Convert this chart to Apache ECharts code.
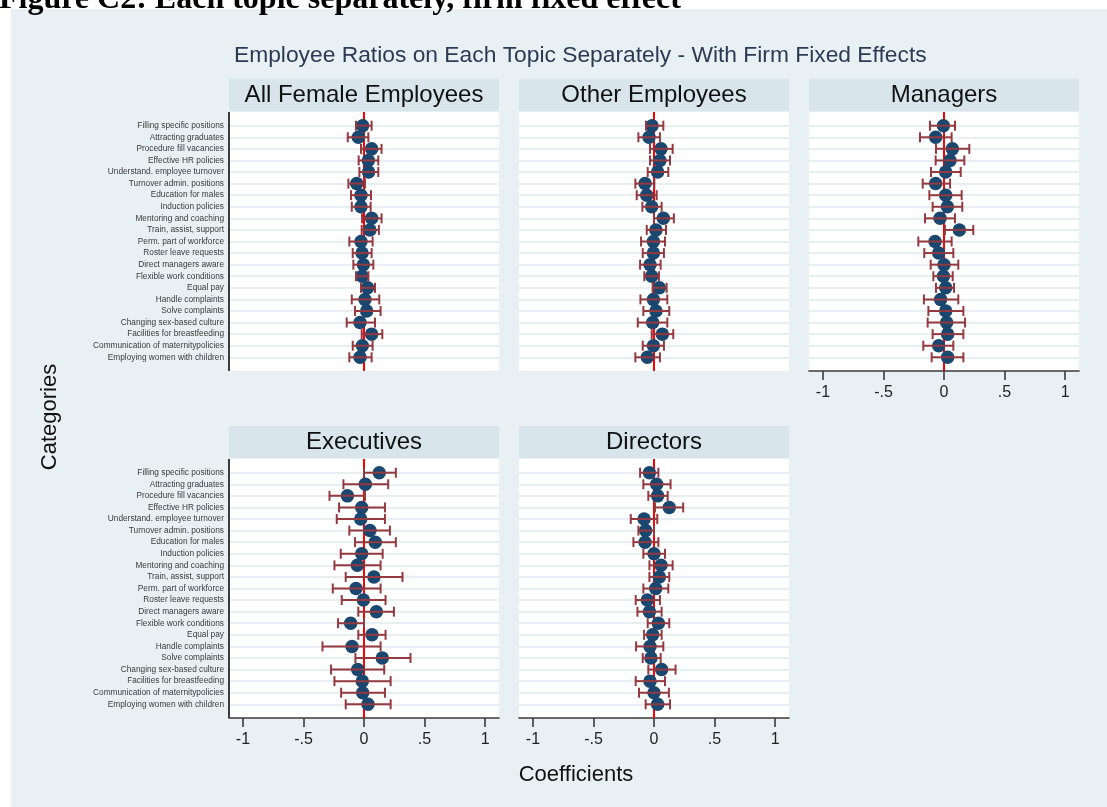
<!DOCTYPE html>
<html><head><meta charset="utf-8">
<script src="https://cdn.jsdelivr.net/npm/echarts@6/dist/echarts.min.js"></script>
<style>html,body{margin:0;padding:0;background:#fff}#c{width:1107px;height:807px}</style>
</head><body><div id="c"></div>
<script>
const categories = [
  'Filling specific positions','Attracting graduates','Procedure fill vacancies','Effective HR policies',
  'Understand. employee turnover','Turnover admin. positions','Education for males','Induction policies',
  'Mentoring and coaching','Train, assist, support','Perm. part of workforce','Roster leave requests',
  'Direct managers aware','Flexible work conditions','Equal pay','Handle complaints','Solve complaints',
  'Changing sex-based culture','Facilities for breastfeeding','Communication of maternitypolicies',
  'Employing women with children'
];
const panelTitles = ['All Female Employees','Other Employees','Managers','Executives','Directors'];
const xTicks = [-1, -0.5, 0, 0.5, 1];

const femaleCoef = [-0.011,-0.047,0.063,0.036,0.038,-0.060,-0.025,-0.025,0.063,0.049,-0.025,-0.016,-0.005,-0.016,0.030,0.008,0.022,-0.033,0.063,-0.014,-0.033];
const femaleLo   = [-0.066,-0.134,-0.025,-0.044,-0.038,-0.129,-0.107,-0.101,-0.016,-0.019,-0.121,-0.093,-0.088,-0.066,-0.025,-0.101,-0.074,-0.143,-0.019,-0.093,-0.121];
const femaleHi   = [0.063,0.036,0.145,0.118,0.118,0.008,0.058,0.055,0.145,0.123,0.071,0.063,0.077,0.036,0.091,0.126,0.137,0.091,0.151,0.071,0.063];

const otherCoef = [-0.016,-0.041,0.058,0.049,0.030,-0.074,-0.060,-0.019,0.077,0.016,-0.005,-0.005,-0.033,-0.019,0.044,-0.005,0.016,-0.011,0.069,-0.005,-0.055];
const otherLo   = [-0.066,-0.129,-0.033,-0.033,-0.052,-0.154,-0.143,-0.096,0.000,-0.060,-0.107,-0.093,-0.115,-0.080,-0.011,-0.112,-0.088,-0.134,-0.019,-0.093,-0.154];
const otherHi   = [0.077,0.049,0.154,0.132,0.118,0.003,0.022,0.063,0.164,0.099,0.091,0.082,0.055,0.041,0.104,0.110,0.126,0.110,0.159,0.082,0.049];

const managerCoef = [-0.005,-0.069,0.069,0.050,0.014,-0.069,0.014,0.028,-0.033,0.127,-0.074,-0.044,0.000,-0.005,0.014,-0.028,0.014,0.022,0.030,-0.044,0.030];
const managerLo   = [-0.116,-0.198,-0.066,-0.069,-0.107,-0.176,-0.121,-0.094,-0.157,0.008,-0.212,-0.163,-0.110,-0.088,-0.066,-0.166,-0.129,-0.135,-0.094,-0.171,-0.102];
const managerHi   = [0.091,0.063,0.209,0.168,0.138,0.050,0.146,0.151,0.091,0.242,0.063,0.077,0.118,0.072,0.083,0.118,0.160,0.174,0.160,0.077,0.160];

const execCoef = [0.126,0.011,-0.137,-0.019,-0.027,0.049,0.093,-0.019,-0.055,0.082,-0.066,-0.005,0.102,-0.110,0.066,-0.099,0.151,-0.052,-0.014,-0.011,0.033];
const execLo   = [0.000,-0.170,-0.285,-0.206,-0.225,-0.121,-0.074,-0.192,-0.244,-0.151,-0.258,-0.184,-0.047,-0.214,-0.047,-0.343,-0.071,-0.272,-0.244,-0.189,-0.151];
const execHi   = [0.263,0.200,0.008,0.173,0.173,0.214,0.263,0.154,0.137,0.318,0.137,0.178,0.247,0.000,0.178,0.137,0.384,0.167,0.220,0.173,0.220];

const directorCoef = [-0.038,0.022,0.030,0.126,-0.082,-0.069,-0.074,0.000,0.058,0.044,0.014,-0.055,-0.038,0.036,-0.011,-0.033,-0.025,0.063,-0.033,0.000,0.030];
const directorLo   = [-0.115,-0.088,-0.047,0.008,-0.192,-0.129,-0.170,-0.088,-0.038,-0.038,-0.088,-0.151,-0.137,-0.052,-0.082,-0.148,-0.093,-0.047,-0.151,-0.124,-0.069];
const directorHi   = [0.036,0.137,0.113,0.241,0.027,0.000,0.036,0.091,0.154,0.126,0.118,0.049,0.063,0.126,0.063,0.077,0.055,0.178,0.091,0.123,0.132];

const seriesData = [
  [femaleCoef, femaleLo, femaleHi],
  [otherCoef, otherLo, otherHi],
  [managerCoef, managerLo, managerHi],
  [execCoef, execLo, execHi],
  [directorCoef, directorLo, directorHi]
];

// layout (pixels)
const FONT = "'Liberation Sans', Arial, sans-serif";
const BG = '#e9f0f3', HEAD = '#d8e5eb', GRIDC = '#e8eff3';
const NAVY = '#1a476f', MAROON = '#93393f', AXISC = '#3a3a3a';
const PW = 270, PH = 259, PAD = 13.7;
const layout = [
  {left:229, top:112, yLab:true,  xLab:false},
  {left:519, top:112, yLab:false, xLab:false},
  {left:809, top:112, yLab:false, xLab:true},
  {left:229, top:459, yLab:true,  xLab:true},
  {left:519, top:459, yLab:false, xLab:true}
];

const grids = [], xAxes = [], yAxes = [], series = [], graphics = [];
graphics.push({type:'rect', z:-10, shape:{x:0,y:0,width:1107,height:9}, style:{fill:'#ffffff'}});
graphics.push({type:'rect', z:-10, shape:{x:0,y:0,width:11,height:807}, style:{fill:'#ffffff'}});
graphics.push({type:'text', z:5, style:{text:'Figure C2: Each topic separately, firm fixed effect', x:-1, y:16,
  textVerticalAlign:'bottom', font:"bold 32px 'Liberation Serif', 'Times New Roman', serif", fill:'#000'}});

layout.forEach((L, i) => {
  grids.push({left:L.left, top:L.top + PAD, width:PW, height:PH - 2*PAD, containLabel:false});
  xAxes.push({
    gridIndex:i, type:'value', min:-1.115, max:1.115,
    axisLine:{show:L.xLab, onZero:false, lineStyle:{color:AXISC, width:1.6}},
    axisTick:{show:L.xLab, length:9, customValues:xTicks, lineStyle:{color:AXISC, width:1.6}},
    axisLabel:{show:L.xLab, customValues:xTicks, margin:14, fontSize:16, color:'#222', fontFamily:FONT,
      formatter: v => v === 0 ? '0' : String(v).replace('0.', '.')},
    splitLine:{show:false},
    offset: PAD
  });
  yAxes.push({
    gridIndex:i, type:'category', data:categories, inverse:true, boundaryGap:false,
    axisLine:{show:false}, axisTick:{show:false},
    axisLabel:{show:L.yLab, interval:0, fontSize:8.3, color:'#3a3a3a', fontFamily:FONT, margin:5},
    splitLine:{show:true, interval:0, lineStyle:{color:GRIDC, width:2}}
  });
  // white plot region and header
  graphics.push({type:'rect', z:-5, shape:{x:L.left, y:L.top, width:PW, height:PH}, style:{fill:'#ffffff'}});
  graphics.push({type:'rect', z:-5, shape:{x:L.left, y:L.top-33, width:PW, height:32}, style:{fill:HEAD}});
  graphics.push({type:'text', z:5, style:{text:panelTitles[i], x:L.left+PW/2, y:L.top-17, textAlign:'center',
    textVerticalAlign:'middle', font:'24px ' + FONT, fill:'#111'}});
  if (L.yLab) {
    graphics.push({type:'line', z:5, shape:{x1:L.left, y1:L.top, x2:L.left, y2:L.top+PH}, style:{stroke:AXISC, lineWidth:2}});
  }
  const [coef, lo, hi] = seriesData[i];
  // zero reference line
  series.push({
    type:'custom', xAxisIndex:i, yAxisIndex:i, z:1, silent:true,
    data:[[0, 0]],
    renderItem:(params, api) => {
      const p = api.coord([0, 0]);
      const cs = params.coordSys;
      const ext = cs.height / 20 * 1.18;
      return {type:'line', shape:{x1:p[0], y1:cs.y - ext, x2:p[0], y2:cs.y + cs.height + ext},
        style:{stroke:'#ff0000', lineWidth:2}};
    }
  });
  series.push({
    type:'scatter', xAxisIndex:i, yAxisIndex:i, z:2, symbol:'circle', symbolSize:13.5,
    itemStyle:{color:NAVY, opacity:1},
    data: coef.map((c, k) => [c, k])
  });
  series.push({
    type:'custom', xAxisIndex:i, yAxisIndex:i, z:3,
    data: lo.map((l, k) => [l, hi[k], k]),
    encode:{x:[0,1], y:2},
    renderItem:(params, api) => {
      const a = api.coord([api.value(0), api.value(2)]);
      const b = api.coord([api.value(1), api.value(2)]);
      const h = 5, st = {stroke:MAROON, lineWidth:2};
      return {type:'group', children:[
        {type:'line', shape:{x1:a[0], y1:a[1], x2:b[0], y2:b[1]}, style:st},
        {type:'line', shape:{x1:a[0], y1:a[1]-h, x2:a[0], y2:a[1]+h}, style:st},
        {type:'line', shape:{x1:b[0], y1:b[1]-h, x2:b[0], y2:b[1]+h}, style:st}
      ]};
    }
  });
});

graphics.push({type:'text', z:5, rotation:Math.PI/2, x:50, y:417, style:{text:'Categories', x:0, y:0,
  textAlign:'center', textVerticalAlign:'middle', font:'22px ' + FONT, fill:'#111'}});
graphics.push({type:'text', z:5, style:{text:'Coefficients', x:576, y:775, textAlign:'center',
  textVerticalAlign:'middle', font:'22px ' + FONT, fill:'#111'}});

const chart = echarts.init(document.getElementById('c'), null, {renderer:'canvas'});
chart.setOption({
  backgroundColor: BG,
  animation:false,
  title:{text:'Employee Ratios on Each Topic Separately - With Firm Fixed Effects', left:229, top:39,
    textStyle:{fontSize:22.8, fontWeight:'normal', color:'#2b3a55', fontFamily:FONT}},
  grid: grids, xAxis: xAxes, yAxis: yAxes, series: series,
  graphic: {elements: graphics}
});
</script></body></html>
